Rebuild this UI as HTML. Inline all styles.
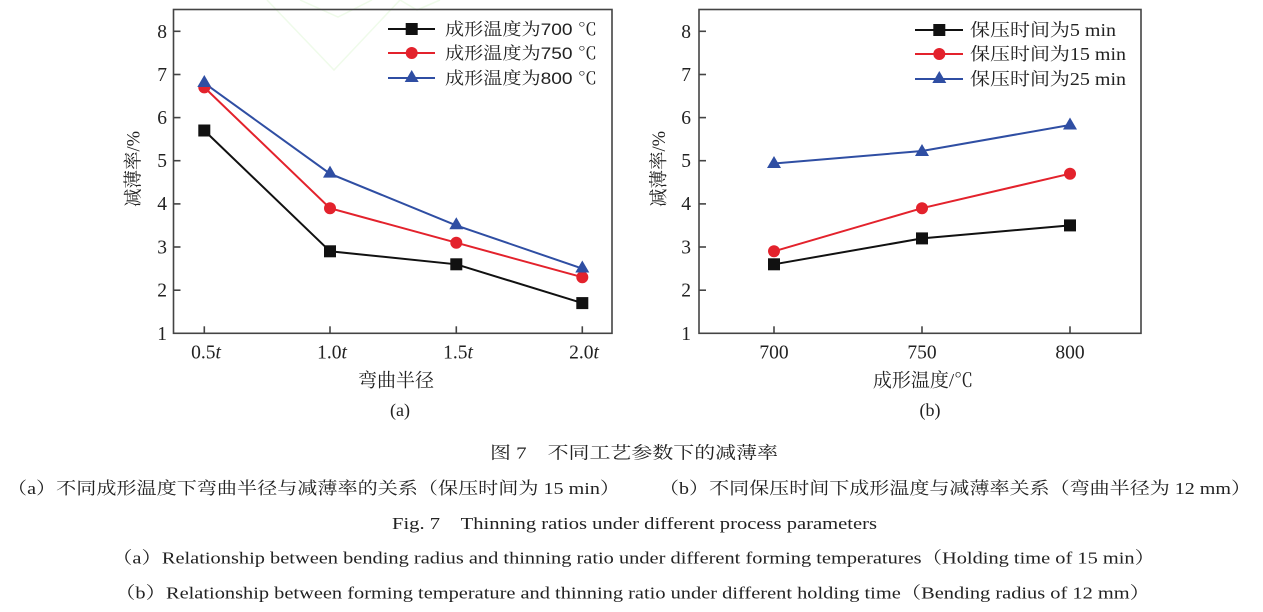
<!DOCTYPE html>
<html><head><meta charset="utf-8"><style>
html,body{margin:0;padding:0;background:#fff;}
svg{display:block;}
.s{font-family:"Liberation Serif","Noto Serif CJK SC",serif;}
.h{font-family:"Liberation Sans","Noto Serif CJK SC",sans-serif;}
</style></head><body>
<svg width="1263" height="612" viewBox="0 0 1263 612" xmlns="http://www.w3.org/2000/svg">
<rect width="1263" height="612" fill="#fff"/>
<!-- faint watermark -->
<g stroke="#effbea" stroke-width="1.5" fill="none">
<polyline points="267,0 334,70 400,0"/>
<polyline points="300,0 338,17 372,0"/>
<polyline points="400,0 417,10 440,0"/>
</g>

<!-- ========== LEFT PLOT ========== -->
<g stroke="#444" stroke-width="1.6" fill="none">
<rect x="173.5" y="9.5" width="438.5" height="323.8"/>
<line x1="173.5" y1="31.3" x2="180.5" y2="31.3"/>
<line x1="173.5" y1="74.5" x2="180.5" y2="74.5"/>
<line x1="173.5" y1="117.6" x2="180.5" y2="117.6"/>
<line x1="173.5" y1="160.7" x2="180.5" y2="160.7"/>
<line x1="173.5" y1="203.9" x2="180.5" y2="203.9"/>
<line x1="173.5" y1="247" x2="180.5" y2="247"/>
<line x1="173.5" y1="290.2" x2="180.5" y2="290.2"/>
<line x1="204.3" y1="333.3" x2="204.3" y2="326.3"/>
<line x1="330" y1="333.3" x2="330" y2="326.3"/>
<line x1="456.3" y1="333.3" x2="456.3" y2="326.3"/>
<line x1="582.3" y1="333.3" x2="582.3" y2="326.3"/>
</g>
<g class="s" font-size="19.5" fill="#222" text-anchor="end">
<text x="167" y="38">8</text>
<text x="167" y="81">7</text>
<text x="167" y="124">6</text>
<text x="167" y="167">5</text>
<text x="167" y="210">4</text>
<text x="167" y="253.5">3</text>
<text x="167" y="296.5">2</text>
<text x="167" y="340">1</text>
</g>
<g class="s" font-size="19.5" fill="#222" text-anchor="middle">
<text x="206" y="358.5">0.5<tspan font-style="italic">t</tspan></text>
<text x="332" y="358.5">1.0<tspan font-style="italic">t</tspan></text>
<text x="458" y="358.5">1.5<tspan font-style="italic">t</tspan></text>
<text x="584" y="358.5">2.0<tspan font-style="italic">t</tspan></text>
</g>
<text class="s" x="396" y="386.5" font-size="19" fill="#222" text-anchor="middle">弯曲半径</text>
<text class="s" x="400" y="416" font-size="18" fill="#222" text-anchor="middle">(a)</text>
<text class="s" font-size="18.5" fill="#222" text-anchor="middle" transform="translate(139.5,169) rotate(-90)">减薄率/%</text>

<!-- series left -->
<polyline points="204.3,130.5 330,251.3 456.3,264.3 582.3,303.1" fill="none" stroke="#111" stroke-width="2"/>
<polyline points="204.3,87.4 330,208.2 456.3,242.7 582.3,277.2" fill="none" stroke="#e3222c" stroke-width="2"/>
<polyline points="204.3,83.1 330,173.7 456.3,225.4 582.3,268.6" fill="none" stroke="#2f4ea3" stroke-width="2"/>
<g fill="#111">
<rect x="198.3" y="124.5" width="12" height="12"/>
<rect x="324" y="245.3" width="12" height="12"/>
<rect x="450.3" y="258.3" width="12" height="12"/>
<rect x="576.3" y="297.1" width="12" height="12"/>
</g>
<g fill="#e3222c">
<circle cx="204.3" cy="87.4" r="6"/>
<circle cx="330" cy="208.2" r="6"/>
<circle cx="456.3" cy="242.7" r="6"/>
<circle cx="582.3" cy="277.2" r="6"/>
</g>
<g fill="#2f4ea3">
<polygon points="204.3,75 197.3,87 211.3,87"/>
<polygon points="330,165.6 323,177.6 337,177.6"/>
<polygon points="456.3,217.3 449.3,229.3 463.3,229.3"/>
<polygon points="582.3,260.5 575.3,272.5 589.3,272.5"/>
</g>
<!-- legend left -->
<line x1="388" y1="29" x2="435" y2="29" stroke="#111" stroke-width="2"/>
<rect x="405.7" y="23" width="12" height="12" fill="#111"/>
<line x1="388" y1="53" x2="435" y2="53" stroke="#e3222c" stroke-width="2"/>
<circle cx="411.7" cy="53" r="6" fill="#e3222c"/>
<line x1="388" y1="78" x2="435" y2="78" stroke="#2f4ea3" stroke-width="2"/>
<polygon points="411.7,70 404.7,82 418.7,82" fill="#2f4ea3"/>
<g class="h" font-size="17" fill="#222">
<text x="445" y="35" textLength="152" lengthAdjust="spacingAndGlyphs">成形温度为700 ℃</text>
<text x="445" y="59" textLength="152" lengthAdjust="spacingAndGlyphs">成形温度为750 ℃</text>
<text x="445" y="84" textLength="152" lengthAdjust="spacingAndGlyphs">成形温度为800 ℃</text>
</g>

<!-- ========== RIGHT PLOT ========== -->
<g stroke="#444" stroke-width="1.6" fill="none">
<rect x="699" y="9.5" width="442" height="323.8"/>
<line x1="699" y1="31.3" x2="706" y2="31.3"/>
<line x1="699" y1="74.5" x2="706" y2="74.5"/>
<line x1="699" y1="117.6" x2="706" y2="117.6"/>
<line x1="699" y1="160.7" x2="706" y2="160.7"/>
<line x1="699" y1="203.9" x2="706" y2="203.9"/>
<line x1="699" y1="247" x2="706" y2="247"/>
<line x1="699" y1="290.2" x2="706" y2="290.2"/>
<line x1="774" y1="333.3" x2="774" y2="326.3"/>
<line x1="922" y1="333.3" x2="922" y2="326.3"/>
<line x1="1070" y1="333.3" x2="1070" y2="326.3"/>
</g>
<g class="s" font-size="19.5" fill="#222" text-anchor="end">
<text x="691" y="38">8</text>
<text x="691" y="81">7</text>
<text x="691" y="124">6</text>
<text x="691" y="167">5</text>
<text x="691" y="210">4</text>
<text x="691" y="253.5">3</text>
<text x="691" y="296.5">2</text>
<text x="691" y="340">1</text>
</g>
<g class="s" font-size="19.5" fill="#222" text-anchor="middle">
<text x="774" y="358.5">700</text>
<text x="922" y="358.5">750</text>
<text x="1070" y="358.5">800</text>
</g>
<text class="s" x="923" y="386.5" font-size="19" fill="#222" text-anchor="middle">成形温度/℃</text>
<text class="s" x="930" y="416" font-size="18" fill="#222" text-anchor="middle">(b)</text>
<text class="s" font-size="18.5" fill="#222" text-anchor="middle" transform="translate(665,169) rotate(-90)">减薄率/%</text>

<polyline points="774,264.3 922,238.4 1070,225.4" fill="none" stroke="#111" stroke-width="2"/>
<polyline points="774,251.3 922,208.2 1070,173.7" fill="none" stroke="#e3222c" stroke-width="2"/>
<polyline points="774,163.5 922,151 1070,125" fill="none" stroke="#2f4ea3" stroke-width="2"/>
<g fill="#111">
<rect x="768" y="258.3" width="12" height="12"/>
<rect x="916" y="232.4" width="12" height="12"/>
<rect x="1064" y="219.4" width="12" height="12"/>
</g>
<g fill="#e3222c">
<circle cx="774" cy="251.3" r="6"/>
<circle cx="922" cy="208.2" r="6"/>
<circle cx="1070" cy="173.7" r="6"/>
</g>
<g fill="#2f4ea3">
<polygon points="774,156 767,168 781,168"/>
<polygon points="922,144 915,156 929,156"/>
<polygon points="1070,117.5 1063,129.5 1077,129.5"/>
</g>
<!-- legend right -->
<line x1="915" y1="30" x2="963" y2="30" stroke="#111" stroke-width="2"/>
<rect x="933.3" y="24" width="12" height="12" fill="#111"/>
<line x1="915" y1="54" x2="963" y2="54" stroke="#e3222c" stroke-width="2"/>
<circle cx="939.3" cy="54" r="6" fill="#e3222c"/>
<line x1="915" y1="79" x2="963" y2="79" stroke="#2f4ea3" stroke-width="2"/>
<polygon points="939.3,71 932.3,83 946.3,83" fill="#2f4ea3"/>
<g class="s" font-size="17.5" fill="#222">
<text x="970" y="36" textLength="146" lengthAdjust="spacingAndGlyphs">保压时间为5 min</text>
<text x="970" y="60" textLength="156" lengthAdjust="spacingAndGlyphs">保压时间为15 min</text>
<text x="970" y="85" textLength="156" lengthAdjust="spacingAndGlyphs">保压时间为25 min</text>
</g>

<!-- ========== CAPTIONS ========== -->
<g class="s" font-size="17" fill="#222">
<text x="490" y="458.5" textLength="288" lengthAdjust="spacingAndGlyphs">图 7　不同工艺参数下的减薄率</text>
<text x="7" y="494" textLength="613" lengthAdjust="spacingAndGlyphs">（a）不同成形温度下弯曲半径与减薄率的关系（保压时间为 15 min）</text>
<text x="659" y="494" textLength="592" lengthAdjust="spacingAndGlyphs">（b）不同保压时间下成形温度与减薄率关系（弯曲半径为 12 mm）</text>
<text x="392" y="529" textLength="485" lengthAdjust="spacingAndGlyphs">Fig. 7　Thinning ratios under different process parameters</text>
<text x="112" y="563.5" textLength="1043" lengthAdjust="spacingAndGlyphs">（a）Relationship between bending radius and thinning ratio under different forming temperatures（Holding time of 15 min）</text>
<text x="115" y="598.5" textLength="1035" lengthAdjust="spacingAndGlyphs">（b）Relationship between forming temperature and thinning ratio under different holding time（Bending radius of 12 mm）</text>
</g>
</svg>
</body></html>
